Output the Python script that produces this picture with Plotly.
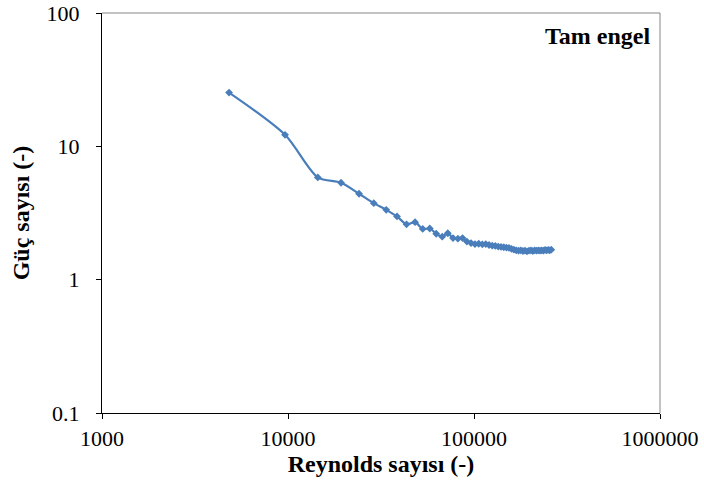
import plotly.graph_objects as go

reynolds = [4820, 9640, 14460, 19280, 24100, 28920, 33740, 38560, 43380, 48200,
            53020, 57840, 62660, 67480, 72300, 77120, 81940, 86760, 91580, 96400,
            101220, 106040, 110860, 115680, 120500, 125320, 130140, 134960, 139780, 144600,
            149420, 154240, 159060, 163880, 168700, 173520, 178340, 183160, 187980, 192800,
            197620, 202440, 207260, 212080, 216900, 221720, 226540, 231360, 236180, 241000,
            245820, 250640, 255460, 260280]
guc = [25.3, 12.2, 5.85, 5.33, 4.41, 3.75, 3.34, 2.98, 2.60, 2.70,
       2.40, 2.42, 2.21, 2.10, 2.23, 2.05, 2.03, 2.05, 1.93, 1.88,
       1.85, 1.86, 1.84, 1.85, 1.82, 1.80, 1.79, 1.77, 1.76, 1.75,
       1.74, 1.73, 1.70, 1.68, 1.66, 1.65, 1.66, 1.64, 1.65, 1.63,
       1.65, 1.66, 1.64, 1.66, 1.65, 1.66, 1.65, 1.66, 1.65, 1.67,
       1.66, 1.67, 1.66, 1.68]

x_ticks = [1000, 10000, 100000, 1000000]
x_labels = ["1000", "10000", "100000", "1000000"]
y_ticks = [0.1, 1, 10, 100]
y_labels = ["0.1", "1", "10", "100"]

font = "Liberation Serif, Times New Roman, serif"
blue = "#4a7ebb"

fig = go.Figure()
fig.add_trace(go.Scatter(
    x=reynolds, y=guc, mode="lines+markers",
    line=dict(color=blue, width=2.2, shape="spline", smoothing=0.8),
    marker=dict(symbol="diamond", size=6, color=blue),
    showlegend=False,
))

fig.update_xaxes(type="log", range=[3, 6], tickvals=x_ticks, ticktext=x_labels,
                 showgrid=False, zeroline=False, showline=True, linecolor="#000000",
                 linewidth=1, ticks="outside", ticklen=5, tickcolor="#000000",
                 automargin=False, ticklabelstandoff=1,
                 tickfont=dict(family=font, size=22, color="#000"),
                 title=dict(text="<b>Reynolds sayısı (-)</b>", standoff=0,
                            font=dict(family=font, size=24, color="#000")))
fig.update_yaxes(type="log", range=[-1, 2], tickvals=y_ticks, ticktext=y_labels,
                 showgrid=False, zeroline=False, showline=True, linecolor="#000000",
                 linewidth=1, ticks="outside", ticklen=5, tickcolor="#000000",
                 automargin=False, ticklabelstandoff=12,
                 tickfont=dict(family=font, size=22, color="#000"),
                 title=dict(text="<b>Güç sayısı (-)</b>", standoff=10,
                            font=dict(family=font, size=24, color="#000")))

fig.add_shape(type="line", xref="paper", yref="paper", x0=0, x1=1, y0=1, y1=1,
              line=dict(color="#868686", width=1))
fig.add_shape(type="line", xref="paper", yref="paper", x0=1, x1=1, y0=0, y1=1,
              line=dict(color="#868686", width=1))

fig.add_annotation(text="<b>Tam engel</b>", xref="paper", yref="paper",
                   x=0.985, y=0.943, xanchor="right", yanchor="middle", showarrow=False,
                   font=dict(family=font, size=24, color="#000"))

fig.update_layout(width=704, height=487, plot_bgcolor="white", paper_bgcolor="white",
                  margin=dict(l=102, r=44, t=13, b=74))

fig.write_html("out.html")
